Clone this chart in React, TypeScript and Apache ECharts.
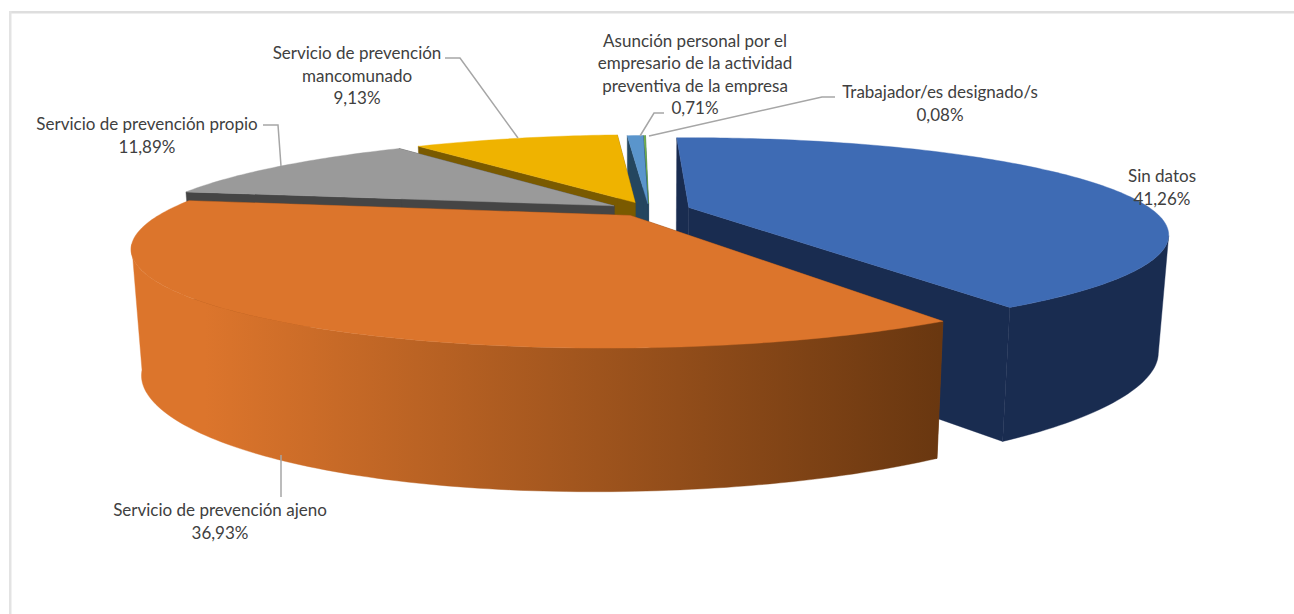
import React, { useEffect, useRef } from "react";
import * as echarts from "echarts";

const names = [
  "Sin datos",
  "Servicio de prevención ajeno",
  "Servicio de prevención propio",
  "Servicio de prevención\nmancomunado",
  "Asunción personal por el\nempresario de la actividad\npreventiva de la empresa",
  "Trabajador/es designado/s",
];
const values = [41.26, 36.93, 11.89, 9.13, 0.71, 0.08];
const topColors = ["#3e6bb4", "#dc752c", "#9a9a9a", "#efb300", "#5a95cc", "#70ad47"];
const wallColors = ["#192c50", "#7a4015", "#454545", "#7a5a00", "#24465f", "#24465f"];
const explosions = [0.09, 0.07, 0.09, 0.09, 0.07, 0.07];
const drawOrder = [5, 4, 3, 2, 0, 1];
const labelCenters = [
  [1162, 187],
  [220, 521],
  [147, 135],
  [357, 75],
  [695, 74],
  [940, 103],
];
const leaders = [
  [[281, 455], [281, 497]],
  [[281, 166], [278, 125], [263, 125]],
  [[518, 138], [460, 58], [445, 58]],
  [[640, 136], [654, 113], [664, 113]],
  [[649, 136], [822, 97], [835, 97]],
];

// projection of the plan of the pie
const CX = 649;
const CY = 210;
const RX = 464;
const KY = 91;
const D = 3.5;
const DEPTH = 124;
const BX = 0.98;
const BY = 1.14;
const TILT = 0.006;
const SIDE = 6;
const SHEAR = 12;
const START = -2;
const WARP = 2;

const rad = (d: number) => (d * Math.PI) / 180;
const total = values.reduce((a, b) => a + b, 0);
const spans: number[][] = [];
values.reduce((acc, v) => {
  const next = acc + (v / total) * 360;
  spans.push([acc, next]);
  return next;
}, START);

function project(x: number, y: number, bottom: boolean): number[] {
  const s = D / (D - y);
  const px = (RX * x - SHEAR * y) * s;
  const py = KY * y * s;
  return bottom
    ? [CX + px * BX, CY + DEPTH + py * BY - TILT * px - SIDE * Math.pow(px / 510, 4)]
    : [CX + px, CY + py];
}

function sliceGeom(i: number) {
  const [a0, a1] = spans[i];
  const m = rad((a0 + a1) / 2);
  const e = explosions[i];
  const ox = e * Math.sin(m);
  const oy = -e * Math.cos(m);
  const rim = (deg: number, bottom: boolean) => {
    const c = Math.max(0, -Math.cos(rad(deg)));
    const w = rad(deg + WARP * c * c);
    return project(ox + Math.sin(w), oy - Math.cos(w), bottom);
  };
  const tip = (bottom: boolean) => project(ox, oy, bottom);
  return { a0, a1, rim, tip };
}

function renderSlice(params: any, api: any) {
  const i = api.value(0) as number;
  const { a0, a1, rim, tip } = sliceGeom(i);
  const children: any[] = [];
  const wall = wallColors[i];
  const poly = (points: number[][], fill: any) =>
    children.push({
      type: "polygon",
      shape: { points },
      style: { fill, stroke: fill, lineWidth: 0.4 },
    });

  // radial walls
  poly([tip(false), rim(a0, false), rim(a0, true), tip(true)], wall);
  poly([tip(false), rim(a1, false), rim(a1, true), tip(true)], wall);

  // outer wall, only where it faces the viewer
  const sil = (Math.acos(1 / D) * 180) / Math.PI;
  const from = Math.max(a0, 180 - sil);
  const to = Math.min(a1, 180 + sil);
  if (to > from) {
    const topArc: number[][] = [];
    const botArc: number[][] = [];
    for (let d = from; d < to; d += 1) {
      topArc.push(rim(d, false));
      botArc.push(rim(d, true));
    }
    topArc.push(rim(to, false));
    botArc.push(rim(to, true));
    const fill =
      i === 1
        ? new echarts.graphic.LinearGradient(
            205, 0, 940, 0,
            [
              { offset: 0, color: "#dc752c" },
              { offset: 1, color: "#693710" },
            ],
            true
          )
        : wall;
    poly(topArc.concat(botArc.reverse()), fill);
  }

  // top face
  const face: number[][] = [tip(false)];
  const n = Math.max(2, Math.ceil(a1 - a0));
  for (let k = 0; k <= n; k++) face.push(rim(a0 + ((a1 - a0) * k) / n, false));
  poly(face, topColors[i]);

  return { type: "group", children };
}

const fmt = (v: number) => v.toFixed(2).replace(".", ",") + "%";

export default function App() {
  const ref = useRef<HTMLDivElement>(null);
  useEffect(() => {
    document.body.style.margin = "0";
    const chart = echarts.init(ref.current!, undefined, { renderer: "svg" });
    const graphic: any[] = [
      { type: "rect", silent: true, shape: { x: 9, y: 11, width: 1285, height: 2.5 }, style: { fill: "#dedede" } },
      { type: "rect", silent: true, shape: { x: 9, y: 11, width: 2.5, height: 603 }, style: { fill: "#e3e3e3" } },
    ];
    leaders.forEach((points) =>
      graphic.push({
        type: "polyline",
        silent: true,
        z: 10,
        shape: { points },
        style: { stroke: "#a6a6a6", lineWidth: 1.5, fill: "none" },
      })
    );
    names.forEach((name, i) =>
      graphic.push({
        type: "text",
        silent: true,
        z: 11,
        x: labelCenters[i][0],
        y: labelCenters[i][1],
        style: {
          text: `${name}\n${fmt(values[i])}`,
          fontFamily: "Lato",
          fontSize: 17,
          lineHeight: 22.5,
          fill: "#404040",
          align: "center",
          verticalAlign: "middle",
        },
      })
    );
    chart.setOption({
      animation: false,
      backgroundColor: "#ffffff",
      graphic,
      series: [
        {
          type: "custom",
          coordinateSystem: "none",
          silent: true,
          renderItem: renderSlice,
          data: drawOrder.map((i) => [i, values[i]]),
        },
      ],
    });
    return () => chart.dispose();
  }, []);
  return <div ref={ref} style={{ position: "absolute", left: 0, top: 0, width: 1294, height: 614 }} />;
}
